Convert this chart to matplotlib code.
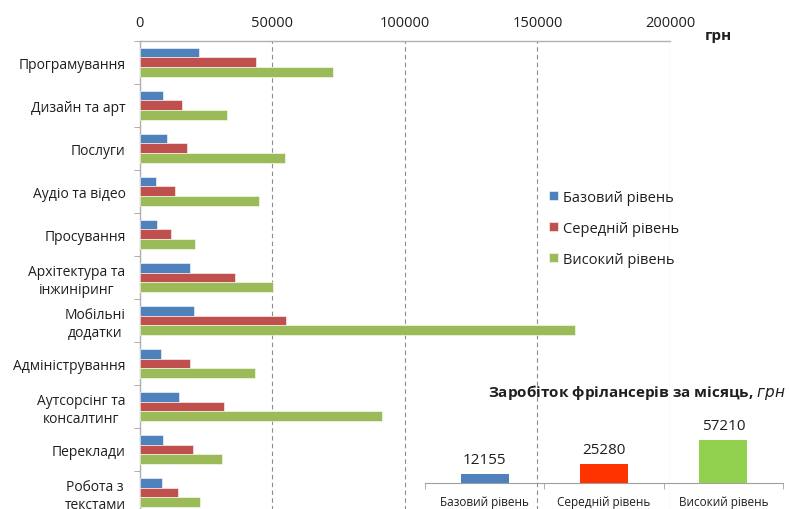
import numpy as np
import matplotlib
matplotlib.use("Agg")
import matplotlib.pyplot as plt

plt.rcParams['font.family'] = ['Open Sans', 'DejaVu Sans']

# Data
categories = ["Програмування", "Дизайн та арт", "Послуги", "Аудіо та відео",
              "Просування", "Архітектура та\nінжиніринг", "Мобільні\nдодатки",
              "Адміністрування", "Аутсорсінг та\nконсалтинг", "Переклади",
              "Робота з\nтекстами"]
levels = ["Базовий рівень", "Середній рівень", "Високий рівень"]
basic = [22500, 8700, 10200, 6300, 6700, 19100, 20500, 8100, 15000, 8700, 8500]
middle = [43900, 16000, 17800, 13300, 11900, 36100, 55100, 18900, 32000, 20200, 14400]
high = [73000, 33000, 54700, 45000, 20800, 50200, 164100, 43400, 91600, 31200, 22800]
avg_values = [12155, 25280, 57210]
xticks = [0, 50000, 100000, 150000, 200000]

colors = ["#4F81BD", "#C0504D", "#9BBB59"]
inset_colors = ["#4F81BD", "#FF3300", "#92D050"]
txt = "#1f1f1f"

W, H = 789, 510
fig = plt.figure(figsize=(W / 100, H / 100), dpi=100)

# main horizontal bar chart
ax = fig.add_axes([139.5 / W, -5 / H, 530.5 / W, 473.3 / H])
y = np.arange(len(categories))
bh = 0.225
for i, (vals, c, lab) in enumerate(zip([basic, middle, high], colors, levels)):
    ax.barh(y + (i - 1) * bh, vals, height=bh, color=c, edgecolor="white",
            linewidth=0.4, label=lab, zorder=3)

ax.set_xlim(0, 200000)
ax.set_ylim(len(categories) - 0.5, -0.5)
ax.xaxis.tick_top()
ax.set_xticks(xticks)
ax.set_xticklabels([str(v) for v in xticks], fontsize=10.5, color=txt)
ax.tick_params(axis="x", length=0, pad=8)
ax.grid(axis="x", linestyle=(0, (4, 3)), color="#8c8c8c", linewidth=0.8, zorder=0)

ax.set_yticks(y)
ax.set_yticklabels(categories, fontsize=10, color=txt, multialignment="center")
ax.tick_params(axis="y", length=0, pad=10)
ax.set_yticks(np.arange(-0.5, len(categories), 1), minor=True)
ax.tick_params(axis="y", which="minor", length=4, color="#a0a0a0", direction="out")

for s in ["right", "bottom"]:
    ax.spines[s].set_visible(False)
for s in ["top", "left"]:
    ax.spines[s].set_color("#b0b0b0")
    ax.spines[s].set_linewidth(1)

fig.text(705 / W, 1 - 36 / H, "грн", fontsize=11, fontweight="bold", color=txt,
         va="center", ha="left")

leg = ax.legend(loc="upper left", bbox_to_anchor=(543 / W, 1 - 185 / H),
                bbox_transform=fig.transFigure, frameon=False, fontsize=10.5,
                handlelength=0.6, handleheight=0.6, handletextpad=0.4,
                labelspacing=1.1, borderaxespad=0)
for t in leg.get_texts():
    t.set_color(txt)

# inset chart: average earnings
ih = 90
ia = fig.add_axes([425 / W, (H - 484.3) / H, 358 / W, ih / H])
ia.bar(np.arange(3), avg_values, width=0.4, color=inset_colors, zorder=3)
ia.set_xlim(-0.5, 2.5)
ia.set_ylim(0, 57210 * ih / 43.3)
ia.set_yticks([])
ia.set_xticks(np.arange(3))
ia.set_xticklabels(levels, fontsize=8.5, color=txt)
ia.tick_params(axis="x", length=0, pad=8.5)
ia.set_xticks([-0.5, 0.5, 1.5, 2.5], minor=True)
ia.tick_params(axis="x", which="minor", length=4, color="#a0a0a0")
for s in ["top", "right", "left"]:
    ia.spines[s].set_visible(False)
ia.spines["bottom"].set_color("#a0a0a0")
ia.patch.set_alpha(0)
for i, v in enumerate(avg_values):
    ia.annotate(str(v), (i, v), xytext=(0, 5), textcoords="offset points",
                ha="center", va="bottom", fontsize=11, color=txt)

fig.text(786 / W, 1 - 392 / H,
         "Заробіток фрілансерів за місяць, $\\it{грн}$",
         fontsize=11, fontweight="bold", color=txt, ha="right", va="center")

fig.savefig("out.png", dpi=100)
